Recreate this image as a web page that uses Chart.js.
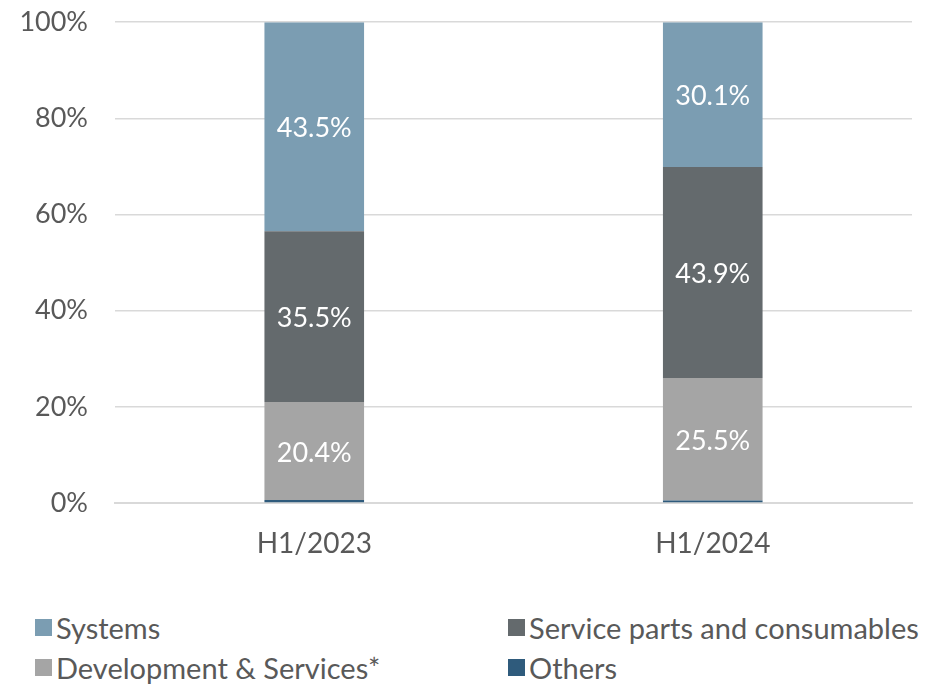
<!DOCTYPE html>
<html>
<head>
<meta charset="utf-8">
<script src="https://cdn.jsdelivr.net/npm/chart.js@4/dist/chart.umd.min.js"></script>
<style>
  body { margin: 0; background: #fff; font-family: Lato, "Noto Sans", sans-serif; }
  #wrap { position: relative; width: 935px; height: 685px; overflow: hidden; }
  #chartBox { position: absolute; left: 0; top: -21px; width: 935px; height: 611px; }
  .legend { position: absolute; font-size: 29px; color: #595959; display: flex; align-items: center; white-space: nowrap; }
  .legend span.box { display: inline-block; width: 17px; height: 17px; margin-right: 4px; }
</style>
</head>
<body>
<div id="wrap">
  <div id="chartBox"><canvas id="mixChart"></canvas></div>
  <div id="legendBox"></div>
</div>
<script>
const categories = ['H1/2023', 'H1/2024'];
const others = [0.6, 0.5];
const development = [20.4, 25.5];
const serviceParts = [35.5, 43.9];
const systems = [43.5, 30.1];
const yTicks = [0, 20, 40, 60, 80, 100];

const seriesNames = ['Others', 'Development & Services*', 'Service parts and consumables', 'Systems'];
const seriesColors = ['#2f5b7c', '#a5a5a5', '#646a6d', '#7b9db2'];
const seriesData = [others, development, serviceParts, systems];
const showLabels = [false, true, true, true];

// legend order as in the picture: 2 columns, 2 rows
const legendSpots = [
  { idx: 3, left: 35, top: 610 },
  { idx: 2, left: 508, top: 610 },
  { idx: 1, left: 35, top: 650 },
  { idx: 0, left: 508, top: 650 }
];
const legendBox = document.getElementById('legendBox');
legendSpots.forEach(s => {
  const d = document.createElement('div');
  d.className = 'legend';
  d.style.left = s.left + 'px';
  d.style.top = s.top + 'px';
  d.innerHTML = '<span class="box" style="background:' + seriesColors[s.idx] + '"></span>' + seriesNames[s.idx];
  legendBox.appendChild(d);
});

// draws the percentage inside each bar segment
const barLabels = {
  id: 'barLabels',
  afterDatasetsDraw(chart) {
    const ctx = chart.ctx;
    ctx.save();
    ctx.fillStyle = '#ffffff';
    ctx.font = '27px Lato, "Noto Sans", sans-serif';
    ctx.textAlign = 'center';
    ctx.textBaseline = 'middle';
    chart.data.datasets.forEach((ds, i) => {
      if (!showLabels[i]) return;
      chart.getDatasetMeta(i).data.forEach((bar, j) => {
        const p = bar.getCenterPoint();
        ctx.fillText(ds.data[j].toFixed(1) + '%', p.x, p.y + 2);
      });
    });
    ctx.restore();
  }
};

new Chart(document.getElementById('mixChart').getContext('2d'), {
  type: 'bar',
  data: {
    labels: categories,
    datasets: seriesNames.map((name, i) => ({
      label: name,
      data: seriesData[i],
      backgroundColor: seriesColors[i],
      borderWidth: 0,
      barPercentage: 0.5,
      categoryPercentage: 0.5
    }))
  },
  options: {
    responsive: true,
    maintainAspectRatio: false,
    animation: false,
    layout: { padding: { top: 6, right: 23, left: 0, bottom: 0 } },
    plugins: { legend: { display: false }, tooltip: { enabled: false } },
    scales: {
      x: {
        stacked: true,
        grid: { display: false, drawTicks: false },
        border: { color: '#d9d9d9', width: 2 },
        ticks: { color: '#595959', font: { size: 28, family: 'Lato, "Noto Sans", sans-serif' }, padding: 24 },
        afterFit: s => { s.height = 87; }
      },
      y: {
        stacked: true,
        min: 0,
        max: 100,
        afterBuildTicks: s => { s.ticks = yTicks.map(v => ({ value: v })); },
        grid: { color: '#d9d9d9', lineWidth: 1.5, drawTicks: false },
        border: { display: false },
        ticks: {
          color: '#595959',
          font: { size: 27, family: 'Lato, "Noto Sans", sans-serif' },
          padding: 27,
          callback: v => v + '%'
        },
        afterFit: s => { s.width = 115; }
      }
    }
  },
  plugins: [barLabels]
});
</script>
</body>
</html>
